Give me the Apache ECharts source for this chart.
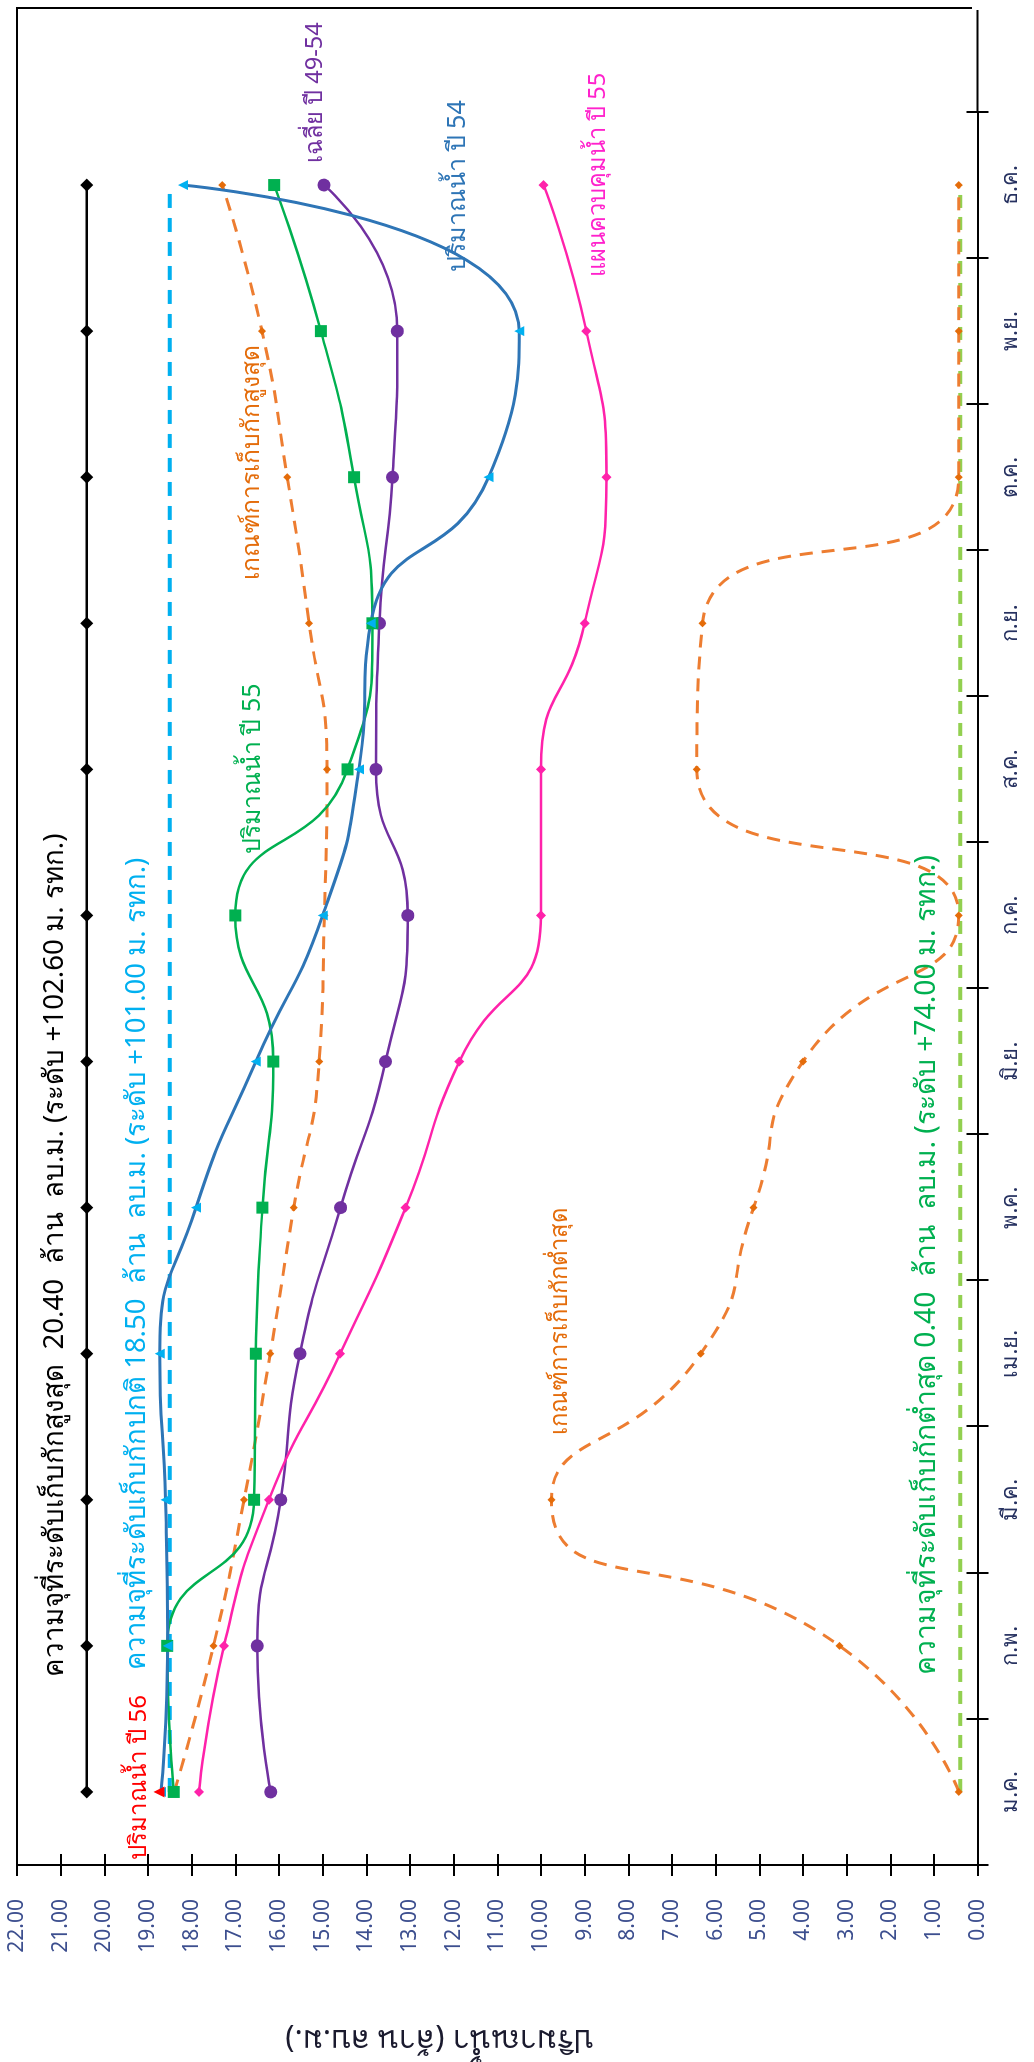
<!DOCTYPE html>
<html>
<head>
<meta charset="utf-8">
<script src="https://cdn.jsdelivr.net/npm/echarts@6/dist/echarts.min.js"></script>
<style>
html,body{margin:0;padding:0;background:#fff;width:1034px;height:2062px;overflow:hidden;}
#wrap{position:absolute;left:0;top:0;width:2062px;height:1034px;transform-origin:0 0;transform:translateY(2062px) rotate(-90deg);background:#fff;}
</style>
</head>
<body>
<div id="wrap"></div>
<script>
// ---- data ----
const months = ['ม.ค.','ก.พ.','มี.ค.','เม.ย.','พ.ค.','มิ.ย.','ก.ค.','ส.ค.','ก.ย.','ต.ค.','พ.ย.','ธ.ค.'];
const valueTicks = [0,1,2,3,4,5,6,7,8,9,10,11,12,13,14,15,16,17,18,19,20,21,22];
const maxCapacity    = [20.40,20.40,20.40,20.40,20.40,20.40,20.40,20.40,20.40,20.40,20.40,20.40];
const normalCapacity = [18.50,18.50,18.50,18.50,18.50,18.50,18.50,18.50,18.50,18.50,18.50,18.50];
const minCapacity    = [0.40,0.40,0.40,0.40,0.40,0.40,0.40,0.40,0.40,0.40,0.40,0.40];
const upperRule = [18.40,17.50,16.80,16.20,15.66,15.08,14.96,14.90,15.31,15.81,16.39,17.30];
const lowerRule = [0.43,3.16,9.76,6.34,5.13,4.00,0.43,6.43,6.30,0.43,0.43,0.43];
const water54   = [18.70,18.55,18.60,18.73,17.90,16.53,15.00,14.17,13.90,11.20,10.50,18.20];
const water55   = [18.41,18.56,16.57,16.53,16.38,16.13,17.00,14.43,13.86,14.28,15.04,16.11];
const avg4954   = [16.19,16.50,15.96,15.52,14.59,13.56,13.05,13.78,13.70,13.40,13.29,14.97];
const plan55    = [17.83,17.26,16.23,14.60,13.10,11.87,10.00,10.00,9.00,8.50,8.96,9.94];
const water56   = [18.75,null,null,null,null,null,null,null,null,null,null,null];

const FONT = '"Noto Sans","DejaVu Sans",sans-serif';
const mctx = document.createElement('canvas').getContext('2d');
function fitSize(text, len){
  mctx.font = '100px ' + FONT;
  return 100 * len / mctx.measureText(text).width;
}
const chart = echarts.init(document.getElementById('wrap'), null, {width:2062, height:1034});

// annotation placed so that it runs from x1 to x2 (chart frame), centred on y
function note(text, x1, x2, y, color){
  const size = fitSize(text, x2 - x1);
  return {type:'text', x:x1, y:y, z:50,
    style:{text:text, fill:color, font: size.toFixed(2)+'px '+FONT, align:'left', verticalAlign:'middle', textAlign:'left', textVerticalAlign:'middle'}};
}

const axisTitle = 'ปริมาณน้ำ (ล้าน ลบ.ม.)';
const titleSize = fitSize(axisTitle, 310);

const catAxisBase = {type:'category', data:months, position:'bottom', boundaryGap:true};
const valAxisBase = {type:'value', min:0, max:22, interval:1, position:'left'};

chart.setOption({
  animation:false,
  backgroundColor:'#fff',
  grid:{left:191, right:112, top:17, bottom:56.4, containLabel:false},
  xAxis:[
    Object.assign({}, catAxisBase, {
      axisLine:{lineStyle:{color:'#000', width:2}},
      axisTick:{show:true, inside:false, length:11, lineStyle:{color:'#000', width:2}},
      axisLabel:{color:'#263160', fontSize:22, fontFamily:FONT, margin:22},
      splitLine:{show:false}
    }),
    Object.assign({}, catAxisBase, {
      axisLine:{show:false},
      axisTick:{show:true, inside:true, length:11, lineStyle:{color:'#000', width:2}},
      axisLabel:{show:false},
      splitLine:{show:false}
    })
  ],
  yAxis:[
    Object.assign({}, valAxisBase, {
      name:axisTitle,
      nameLocation:'middle', nameRotate:90, nameGap:158,
      nameTextStyle:{color:'#1a1a2e', fontSize:titleSize, fontFamily:FONT, padding:[0,0,0,116]},
      axisLine:{show:true, lineStyle:{color:'#000', width:2}},
      axisTick:{show:true, inside:false, length:11, lineStyle:{color:'#000', width:2}},
      axisLabel:{color:'#3d4f8f', fontSize:21, fontFamily:FONT, margin:34, formatter:v=>v.toFixed(2)},
      splitLine:{show:false}
    }),
    Object.assign({}, valAxisBase, {
      axisLine:{show:false},
      axisTick:{show:true, inside:true, length:11, lineStyle:{color:'#000', width:2}},
      axisLabel:{show:false},
      splitLine:{show:false}
    })
  ],
  series:[
    {name:'ความจุที่ระดับเก็บกักสูงสุด', type:'line', data:maxCapacity, symbol:'diamond', symbolSize:13,
      lineStyle:{color:'#000', width:2.5}, itemStyle:{color:'#000'}},
    {name:'ความจุที่ระดับเก็บกักปกติ', type:'line', data:normalCapacity, symbol:'none',
      lineStyle:{color:'#00b0f0', width:4, type:[14,10]}},
    {name:'ความจุที่ระดับเก็บกักต่ำสุด', type:'line', data:minCapacity, symbol:'none',
      lineStyle:{color:'#92d050', width:4, type:[13,9]}},
    {name:'เกณฑ์การเก็บกักสูงสุด', type:'line', data:upperRule, smooth:0.55, symbol:'diamond', symbolSize:8,
      lineStyle:{color:'#ed7d31', width:3, type:[13,9]}, itemStyle:{color:'#e46c0a'}},
    {name:'เกณฑ์การเก็บกักต่ำสุด', type:'line', data:lowerRule, smooth:0.6, symbol:'diamond', symbolSize:8,
      lineStyle:{color:'#ed7d31', width:3, type:[13,9]}, itemStyle:{color:'#e46c0a'}},
    {name:'เฉลี่ย ปี 49-54', type:'line', data:avg4954, smooth:0.55, symbol:'circle', symbolSize:13,
      lineStyle:{color:'#7030a0', width:2.5}, itemStyle:{color:'#7030a0'}},
    {name:'แผนควบคุมน้ำ ปี 55', type:'line', data:plan55, smooth:0.55, symbol:'diamond', symbolSize:10,
      lineStyle:{color:'#ff22aa', width:2.5}, itemStyle:{color:'#ff22aa'}},
    {name:'ปริมาณน้ำ ปี 55', type:'line', data:water55, smooth:0.55, symbol:'rect', symbolSize:12,
      lineStyle:{color:'#00b050', width:2.5}, itemStyle:{color:'#00b050'}},
    {name:'ปริมาณน้ำ ปี 54', type:'line', data:water54, smooth:0.55, symbol:'triangle', symbolSize:10,
      lineStyle:{color:'#2e75b6', width:3}, itemStyle:{color:'#00b0f0'}},
    {name:'ปริมาณน้ำ ปี 56', type:'line', data:water56, symbol:'triangle', symbolSize:11,
      lineStyle:{color:'#ff0000', width:2}, itemStyle:{color:'#ff0000'}}
  ],
  graphic:[
    {type:'line', z:40, shape:{x1:190, y1:17, x2:2055, y2:17}, style:{stroke:'#000', lineWidth:2}},
    {type:'line', z:40, shape:{x1:2054, y1:16, x2:2054, y2:972}, style:{stroke:'#000', lineWidth:2}},
    {type:'line', z:40, shape:{x1:1950, y1:977.6, x2:2052, y2:977.6}, style:{stroke:'#000', lineWidth:2}},
    note('ความจุที่ระดับเก็บกักสูงสุด  20.40  ล้าน  ลบ.ม. (ระดับ +102.60 ม. รทก.)', 385, 1225, 55, '#000000'),
    note('ความจุที่ระดับเก็บกักปกติ 18.50  ล้าน  ลบ.ม. (ระดับ +101.00 ม. รทก.)', 392, 1206, 137, '#00b0f0'),
    note('ปริมาณน้ำ ปี 56', 202, 367, 139, '#ff0000'),
    note('เฉลี่ย ปี 49-54', 1899, 2040, 315, '#7030a0'),
    note('ปริมาณน้ำ ปี 54', 1790, 1962, 458, '#2e75b6'),
    note('แผนควบคุมน้ำ ปี 55', 1785, 1989, 598, '#ff22cc'),
    note('เกณฑ์การเก็บกักสูงสุด', 1482, 1718, 252, '#e46c0a'),
    note('ปริมาณน้ำ ปี 55', 1208, 1379, 253, '#00b050'),
    note('เกณฑ์การเก็บกักต่ำสุด', 627, 858, 560, '#e46c0a'),
    note('ความจุที่ระดับเก็บกักต่ำสุด 0.40  ล้าน  ลบ.ม. (ระดับ +74.00 ม. รทก.)', 387, 1208, 927, '#00b050')
  ]
});
</script>
</body>
</html>
